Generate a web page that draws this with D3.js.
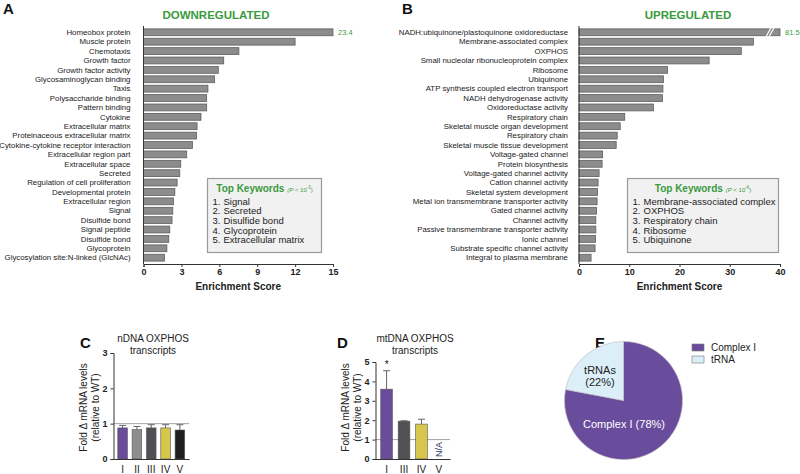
<!DOCTYPE html>
<html><head><meta charset="utf-8">
<script src="https://cdn.jsdelivr.net/npm/d3@7"></script>
<style>
body{margin:0;background:#fff;}
svg{font-family:"Liberation Sans",Arial,Helvetica,sans-serif;}
</style></head>
<body><svg id="c" width="800" height="474"></svg>
<script>
const downLabels = ["Homeobox protein","Muscle protein","Chemotaxis","Growth factor","Growth factor activity","Glycosaminoglycan binding","Taxis","Polysaccharide binding","Pattern binding","Cytokine","Extracellular matrix","Proteinaceous extracellular matrix","Cytokine-cytokine receptor interaction","Extracellular region part","Extracellular space","Secreted","Regulation of cell proliferation","Developmental protein","Extracellular region","Signal","Disulfide bond","Signal peptide","Disulfide bond","Glycoprotein","Glycosylation site:N-linked (GlcNAc)"];
const downValues = [23.4,12.0,7.55,6.35,5.92,5.63,5.1,5.0,5.0,4.55,4.24,4.2,3.87,3.42,2.95,2.87,2.66,2.48,2.37,2.32,2.26,2.08,2.0,1.85,1.66];
const downTicks = [0,3,6,9,12,15];
const downKeywords = ["Signal","Secreted","Disulfide bond","Glycoprotein","Extracellular matrix"];

const upLabels = ["NADH:ubiquinone/plastoquinone oxidoreductase","Membrane-associated complex","OXPHOS","Small nucleolar ribonucleoprotein complex","Ribosome","Ubiquinone","ATP synthesis coupled electron transport","NADH dehydrogenase activity","Oxidoreductase activity","Respiratory chain","Skeletal muscle organ development","Respiratory chain","Skeletal muscle tissue development","Voltage-gated channel","Protein biosynthesis","Voltage-gated channel activity","Cation channel activity","Skeletal system development","Metal ion transmembrane transporter activity","Gated channel activity","Channel activity","Passive transmembrane transporter activity","Ionic channel","Substrate specific channel activity","Integral to plasma membrane"];
const upValues = [81.5,34.7,32.3,25.9,17.6,16.8,16.7,16.6,14.8,9.1,8.2,7.6,7.4,4.7,4.6,4.0,3.8,3.7,3.6,3.5,3.35,3.35,3.3,3.2,2.4];
const upTicks = [0,10,20,30,40];
const upKeywords = ["Membrane-associated complex","OXPHOS","Respiratory chain","Ribosome","Ubiquinone"];

const nLabels = ["I","II","III","IV","V"];
const nValues = [0.88,0.83,0.88,0.88,0.82];
const nErrHigh = [0.95,0.92,0.97,0.97,0.97];
const nTicks = [0,1,2,3];

const mtLabels = ["I","III","IV","V"];
const mtValues = [3.6,1.95,1.8,null];
const mtErrHigh = [4.55,1.97,2.05,null];
const mtTicks = [0,1,2,3,4,5];

const pieLabels = ["Complex I","tRNA"];
const pieValues = [78,22];

const GREEN = "#3a9a3e";
const PURPLE = "#6a4c9c";
const barColors = {"I":PURPLE,"II":"#8e8e8e","III":"#505055","IV":"#d6c74c","V":"#1e1e1e"};

const svg = d3.select("#c");

function panelLetter(t,x,y){
  svg.append("text").attr("x",x).attr("y",y).attr("font-size",15).attr("font-weight","bold").attr("fill","#111").text(t);
}

function hbar(opts){
  const {labels,values,ticks,x0,x1,title,titleX,letter,letterX,keywords,pExp,box,broken,labelGap} = opts;
  const g = svg.append("g");
  const x = d3.scaleLinear().domain([0,ticks[ticks.length-1]]).range([x0,x1]).clamp(true);
  const y = d3.scaleBand().domain(d3.range(labels.length)).range([27,263]).paddingInner(0.27).paddingOuter(0.2);
  panelLetter(letter,letterX,14);
  g.append("text").attr("x",titleX).attr("y",19).attr("text-anchor","middle")
    .attr("font-size",11.5).attr("font-weight","bold").attr("fill",GREEN).text(title);
  g.selectAll("rect.b").data(values).join("rect").attr("class","b")
    .attr("x",x0).attr("y",(d,i)=>y(i)).attr("width",d=>x(d)-x0).attr("height",y.bandwidth())
    .attr("fill","#8c8c8c").attr("stroke","#5e5e5e").attr("stroke-width",0.8);
  g.selectAll("text.l").data(labels).join("text").attr("class","l")
    .attr("x",x0-labelGap).attr("y",(d,i)=>y(i)+y.bandwidth()/2).attr("dy","0.35em")
    .attr("text-anchor","end").attr("font-size",7.85).attr("fill","#1a1a1a").text(d=>d);
  const maxV = ticks[ticks.length-1];
  values.forEach((v,i)=>{
    if(v>maxV){
      g.append("text").attr("x",x(maxV)+5).attr("y",y(i)+y.bandwidth()/2).attr("dy","0.35em")
        .attr("font-size",7.5).attr("fill",GREEN).text(v);
      if(broken){
        const bx = x(maxV)-10;
        [-1.5,1.5].forEach(o=>{
          g.append("line").attr("x1",bx+o-2.5).attr("y1",y(i)+y.bandwidth()+1)
            .attr("x2",bx+o+2.5).attr("y2",y(i)-1).attr("stroke","#fff").attr("stroke-width",1.2);
        });
      }
    }
  });
  g.append("line").attr("x1",x0).attr("x2",x0).attr("y1",26).attr("y2",264).attr("stroke","#333").attr("stroke-width",1);
  const ax = g.append("g").attr("transform","translate(0,264)")
    .call(d3.axisBottom(x).tickValues(ticks).tickSize(3).tickFormat(d3.format("d")));
  ax.select(".domain").attr("stroke","#333");
  ax.selectAll(".tick line").attr("stroke","#333");
  ax.selectAll("text").attr("font-size",9).attr("font-weight","bold").attr("fill","#222")
    .attr("font-family","Liberation Sans, Arial, sans-serif").attr("dy","0.5em");
  g.append("text").attr("x",(x0+x1)/2).attr("y",290).attr("text-anchor","middle")
    .attr("font-size",10).attr("font-weight","bold").attr("fill","#222").text("Enrichment Score");
  g.append("rect").attr("x",box.x).attr("y",box.y).attr("width",box.w).attr("height",box.h)
    .attr("fill","#f1f1f1").attr("stroke","#9a9a9a").attr("stroke-width",1.2);
  const th = g.append("text").attr("x",box.x+box.w/2).attr("y",box.y+13).attr("text-anchor","middle");
  th.append("tspan").attr("font-size",10).attr("font-weight","bold").attr("fill",GREEN).text("Top Keywords ");
  th.append("tspan").attr("font-size",6).attr("fill",GREEN).attr("font-style","italic").text("(P");
  th.append("tspan").attr("font-size",6).attr("fill",GREEN).text(" < 10");
  th.append("tspan").attr("font-size",4.5).attr("fill",GREEN).attr("dy",-2.5).text(pExp);
  th.append("tspan").attr("font-size",6).attr("fill",GREEN).attr("dy",2.5).text(")");
  keywords.forEach((k,i)=>{
    g.append("text").attr("x",box.x+5).attr("y",box.y+26+i*9.7).attr("font-size",9.5).attr("fill","#222").text((i+1)+".");
    g.append("text").attr("x",box.x+16).attr("y",box.y+26+i*9.7).attr("font-size",9.5).attr("fill","#222").text(k);
  });
}

hbar({labels:downLabels,values:downValues,ticks:downTicks,x0:143.5,x1:333,title:"DOWNREGULATED",titleX:216,letter:"A",letterX:3,
  keywords:downKeywords,pExp:"-3",box:{x:207.5,y:178.5,w:114,h:74},broken:false,labelGap:13});
hbar({labels:upLabels,values:upValues,ticks:upTicks,x0:579,x1:780,title:"UPREGULATED",titleX:688,letter:"B",letterX:402,
  keywords:upKeywords,pExp:"-6",box:{x:627.5,y:178.5,w:151,h:74},broken:true,labelGap:11});

function vbar(opts){
  const {labels,values,errs,ticks,x0,x1,y0,y1,title,letter,letterX,titleX,labX} = opts;
  const g = svg.append("g");
  const y = d3.scaleLinear().domain([0,ticks[ticks.length-1]]).range([y0,y1]);
  const x = d3.scaleBand().domain(labels).range([x0,x1]).paddingInner(0.33).paddingOuter(0.3);
  panelLetter(letter,letterX,348);
  g.append("text").attr("x",titleX).attr("y",342).attr("text-anchor","middle").attr("font-size",10).attr("fill","#222").text(title[0]);
  g.append("text").attr("x",titleX).attr("y",354).attr("text-anchor","middle").attr("font-size",10).attr("fill","#222").text(title[1]);
  g.append("line").attr("x1",x0).attr("x2",x1).attr("y1",y(1)).attr("y2",y(1)).attr("stroke","#888").attr("stroke-width",0.8);
  labels.forEach((c,i)=>{
    const v = values[i];
    const cx = x(c)+x.bandwidth()/2;
    if(v==null){
      g.append("text").attr("transform",`translate(${cx+3},${y(0)-2}) rotate(-90)`)
        .attr("font-size",9).attr("fill","#2a2f66").text("N/A");
      return;
    }
    g.append("line").attr("x1",cx).attr("x2",cx).attr("y1",y(v)).attr("y2",y(errs[i])).attr("stroke","#666").attr("stroke-width",1);
    g.append("line").attr("x1",cx-3.5).attr("x2",cx+3.5).attr("y1",y(errs[i])).attr("y2",y(errs[i])).attr("stroke","#666").attr("stroke-width",1);
    g.append("rect").attr("x",x(c)).attr("y",y(v)).attr("width",x.bandwidth()).attr("height",y(0)-y(v))
      .attr("fill",barColors[c]).attr("stroke","#555").attr("stroke-width",0.6);
  });
  const ay = g.append("g").attr("transform",`translate(${x0},0)`)
    .call(d3.axisLeft(y).tickValues(ticks).tickSize(3).tickFormat(d3.format("d")));
  ay.select(".domain").attr("stroke","#333");
  ay.selectAll(".tick line").attr("stroke","#333");
  ay.selectAll("text").attr("font-size",9).attr("font-weight","bold").attr("fill","#222").attr("font-family","Liberation Sans, Arial, sans-serif");
  const axx = g.append("g").attr("transform",`translate(0,${y0})`).call(d3.axisBottom(x).tickSize(0));
  axx.select(".domain").attr("stroke","#333");
  axx.selectAll("text").attr("font-size",10).attr("fill","#222").attr("dy","1.1em").attr("font-family","Liberation Sans, Arial, sans-serif");
  const ylab = g.append("text").attr("transform",`translate(${labX},${(y0+352)/2+2}) rotate(-90)`).attr("text-anchor","middle").attr("font-size",10).attr("fill","#222");
  ylab.append("tspan").attr("x",0).attr("dy",0).text("Fold Δ mRNA levels");
  ylab.append("tspan").attr("x",0).attr("dy","1.15em").text("(relative to WT)");
  return {x,y};
}

vbar({labels:nLabels,values:nValues,errs:nErrHigh,ticks:nTicks,x0:113.5,x1:189,y0:459,y1:353,
  title:["nDNA OXPHOS","transcripts"],letter:"C",letterX:80,titleX:153,labX:87});
const d = vbar({labels:mtLabels,values:mtValues,errs:mtErrHigh,ticks:mtTicks,x0:375.5,x1:450,y0:459,y1:362,
  title:["mtDNA OXPHOS","transcripts"],letter:"D",letterX:337,titleX:415,labX:349});
svg.append("text").attr("x",d.x("I")+d.x.bandwidth()/2).attr("y",d.y(mtErrHigh[0])-3).attr("text-anchor","middle")
  .attr("font-size",10).attr("fill","#111").text("*");

panelLetter("E",595,348);
const pcx=623.5, pcy=400.5, pr=59;
const pie = d3.pie().sort(null).value(d=>d)(pieValues);
const arc = d3.arc().innerRadius(0).outerRadius(pr);
const pieColors = [PURPLE,"#dceff9"];
svg.append("g").attr("transform",`translate(${pcx},${pcy})`).selectAll("path").data(pie).join("path")
  .attr("d",arc).attr("fill",(d,i)=>pieColors[i]).attr("stroke","#bbb").attr("stroke-width",0.6);
svg.append("text").attr("x",pcx+0.5).attr("y",428).attr("text-anchor","middle").attr("font-size",11).attr("fill","#fff").text(pieLabels[0]+" ("+pieValues[0]+"%)");
svg.append("text").attr("x",600).attr("y",374).attr("text-anchor","middle").attr("font-size",11).attr("fill","#222").text("tRNAs");
svg.append("text").attr("x",600).attr("y",386).attr("text-anchor","middle").attr("font-size",11).attr("fill","#222").text("("+pieValues[1]+"%)");
pieLabels.forEach((l,i)=>{
  svg.append("rect").attr("x",692).attr("y",344+i*12).attr("width",12).attr("height",7)
    .attr("fill",pieColors[i]).attr("stroke","#777").attr("stroke-width",0.6);
  svg.append("text").attr("x",711).attr("y",351+i*12).attr("font-size",10).attr("fill","#222").text(l);
});
</script></body></html>
